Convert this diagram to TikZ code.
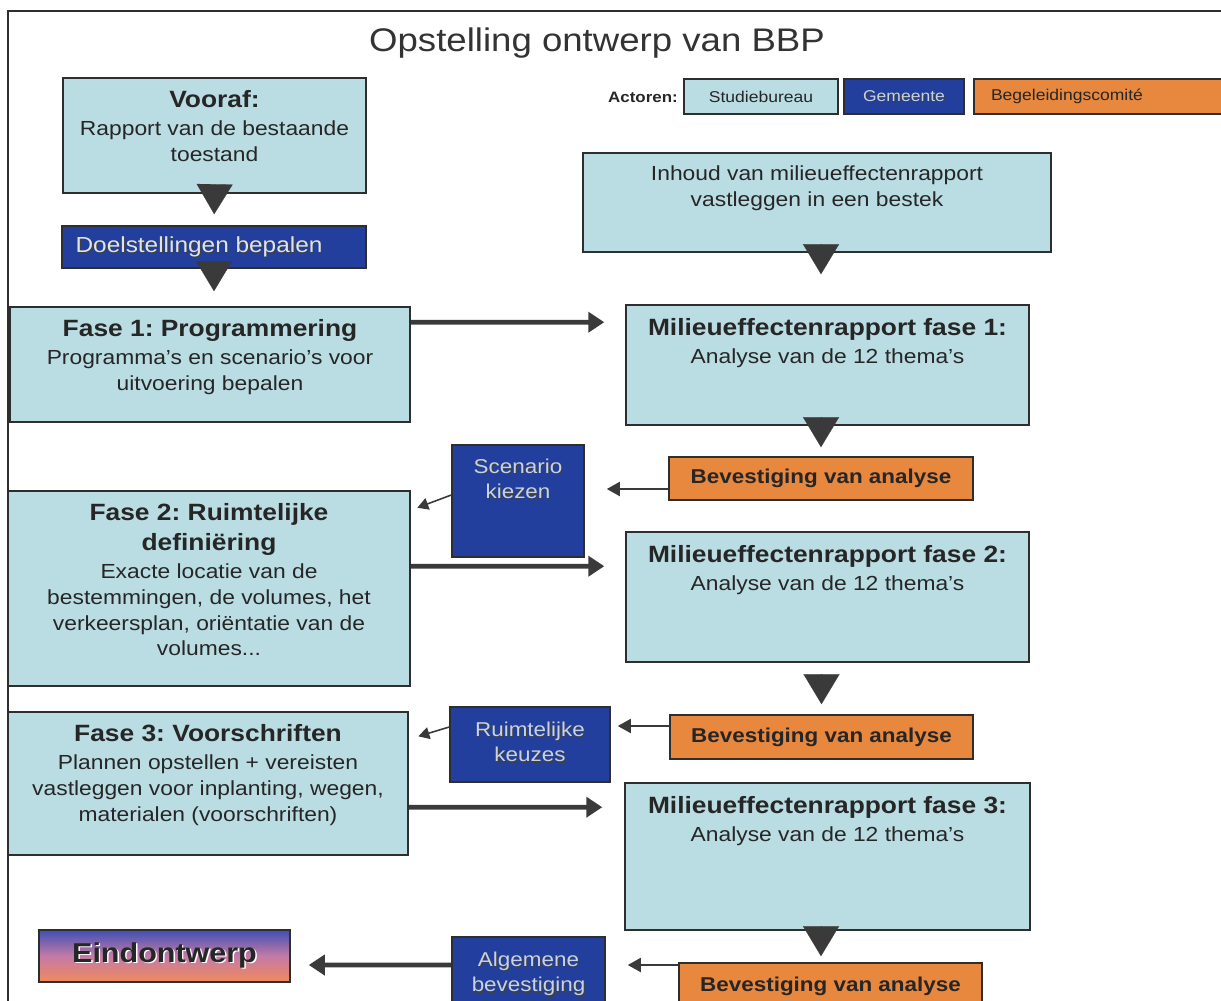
\documentclass[tikz,border=0pt]{standalone}
\usepackage{fontspec}
\setmainfont{Liberation Sans}[FakeStretch=1.12]
\usetikzlibrary{arrows.meta}
\frenchspacing

\definecolor{studieblue}{HTML}{BADDE3}
\definecolor{gemblue}{HTML}{223F9E}
\definecolor{comiteorange}{HTML}{E8873E}
\definecolor{boxline}{HTML}{2E2E2E}
\definecolor{arrowgray}{HTML}{3A3A3A}
\definecolor{textgray}{HTML}{262626}
\definecolor{titlegray}{HTML}{333333}
\definecolor{gemtextcol}{HTML}{C6D2E8}
\definecolor{eindtop}{HTML}{3F50B4}
\definecolor{eindmid}{HTML}{C47AA6}
\definecolor{eindbot}{HTML}{F08A5C}

\newcommand\bodysize{\fontsize{11.6}{14.7}\selectfont}
\newcommand\hd[1]{{\bfseries\fontsize{13.4}{16}\selectfont #1}}
\newcommand\shadowed[1]{\leavevmode\rlap{\kern0.7pt\raisebox{-0.7pt}{\color{black!75}#1}}#1}
\newcommand\lifted[1]{\leavevmode\rlap{\kern0.8pt\raisebox{-0.8pt}{\color{white}#1}}#1}

\begin{document}
\begin{tikzpicture}[
    x=0.02cm, y=-0.02cm,
    box/.style={draw=boxline, line width=0.9pt, inner sep=0pt},
    studiebox/.style={box, fill=studieblue},
    gemeentebox/.style={box, fill=gemblue},
    comitebox/.style={box, fill=comiteorange},
    boxtext/.style={font=\bodysize, text=textgray, align=center, inner sep=0pt, anchor=north},
    gemtext/.style={font=\fontsize{11.4}{14.7}\selectfont, text=gemtextcol, align=center, inner sep=0pt, anchor=north},
    bevtext/.style={font=\bfseries\fontsize{11.4}{14}\selectfont, text=textgray},
    blocktip/.style={draw=arrowgray, line width=0.1pt, -{Triangle[width=0.72cm,length=0.6cm]}},
    thickarrow/.style={draw=arrowgray, line width=2.8pt, -{Triangle[width=0.4cm,length=0.32cm]}},
    thinarrow/.style={draw=arrowgray, line width=1.1pt, -{Triangle[width=0.28cm,length=0.26cm]}},
    diagarrow/.style={draw=arrowgray, line width=0.9pt, -{Triangle[width=0.24cm,length=0.22cm]}}
]
\useasboundingbox (0,0) rectangle (1221,1001);
\clip (0,0) rectangle (1221,1001);

% Frame
\draw[boxline, line width=1pt] (8,1001) -- (8,11) -- (1221,11);

% Title
\node[font=\fontsize{18.6}{22}\selectfont, text=titlegray] (title) at (597,43) {Opstelling ontwerp van BBP};

% Legend
\node[font=\bfseries\fontsize{8.6}{10}\selectfont, text=textgray] (actoren) at (643,97) {Actoren:};
\node[studiebox, minimum width=3.08cm, minimum height=0.70cm, font=\fontsize{8.9}{10}\selectfont, text=textgray] (studie) at (761,96.5) {Studiebureau};
\node[gemeentebox, minimum width=2.4cm, minimum height=0.70cm, font=\fontsize{8.9}{10}\selectfont, text=gemtextcol] (gemeente) at (904,96.5) {\shadowed{Gemeente}};
\node[comitebox, minimum height=0.70cm, text width=4.64cm, inner xsep=0.34cm, align=left, font=\fontsize{8.9}{10}\selectfont, text=textgray] (comite) at (1107,96.5) {Begeleidingscomité};

% Left column: programme phases
\node[studiebox, minimum width=6.06cm, minimum height=2.30cm] (vooraf) at (214.5,135.5) {};
\node[boxtext] (vooraf-txt) at ([yshift=-0.26cm]vooraf.north) {\hd{Vooraf:}\\[1.2pt]Rapport van de bestaande\\toestand};

\node[gemeentebox, minimum width=6.08cm, minimum height=0.84cm] (doel) at (214,247) {};
\node[gemtext, anchor=west, font=\fontsize{12.4}{14}\selectfont, text=gemtextcol!60!white] (doel-txt) at ([xshift=0.28cm]doel.west) {\shadowed{Doelstellingen bepalen}};

\node[studiebox, minimum width=8.0cm, minimum height=2.30cm] (fase1) at (210,364.5) {};
\node[boxtext] (fase1-txt) at ([yshift=-0.26cm]fase1.north) {\hd{Fase 1: Programmering}\\[1.2pt]Programma’s en scenario’s voor\\uitvoering bepalen};

\node[studiebox, minimum width=8.04cm, minimum height=3.9cm] (fase2) at (209,588.5) {};
\node[boxtext] (fase2-txt) at ([yshift=-0.26cm]fase2.north) {\hd{Fase 2: Ruimtelijke}\\[2.3pt]\hd{definiëring}\\[1.2pt]Exacte locatie van de\\bestemmingen, de volumes, het\\verkeersplan, oriëntatie van de\\volumes...};

\node[studiebox, minimum width=8.0cm, minimum height=2.86cm] (fase3) at (208,783.5) {};
\node[boxtext] (fase3-txt) at ([yshift=-0.26cm]fase3.north) {\hd{Fase 3: Voorschriften}\\[1.2pt]Plannen opstellen + vereisten\\vastleggen voor inplanting, wegen,\\materialen (voorschriften)};

\node[box, shading=axis, top color=eindtop, bottom color=eindbot, middle color=eindmid, minimum width=5.02cm, minimum height=1.04cm, font=\bfseries\fontsize{15.5}{18}\selectfont, text=textgray] (eind) at (164.5,956) {\lifted{Eindontwerp}};

% Middle column: choices of the municipality
\node[gemeentebox, minimum width=2.64cm, minimum height=2.24cm] (scen) at (518,501) {};
\node[gemtext] (scen-txt) at ([yshift=-0.28cm]scen.north) {\shadowed{Scenario}\\\shadowed{kiezen}};

\node[gemeentebox, minimum width=3.2cm, minimum height=1.5cm] (ruimt) at (530,744.5) {};
\node[gemtext] (ruimt-txt) at ([yshift=-0.3cm]ruimt.north) {\shadowed{Ruimtelijke}\\\shadowed{keuzes}};

\node[gemeentebox, minimum width=3.06cm, minimum height=1.46cm] (alg) at (528.5,973.5) {};
\node[gemtext] (alg-txt) at ([yshift=-0.3cm]alg.north) {\shadowed{Algemene}\\\shadowed{bevestiging}};

% Right column: environmental impact report
\node[studiebox, minimum width=9.36cm, minimum height=1.98cm] (inhoud) at (817,202.5) {};
\node[boxtext] (inhoud-txt) at ([yshift=-0.26cm]inhoud.north) {Inhoud van milieueffectenrapport\\vastleggen in een bestek};

\node[studiebox, minimum width=8.06cm, minimum height=2.4cm] (mer1) at (827.5,365) {};
\node[boxtext] (mer1-txt) at ([yshift=-0.28cm]mer1.north) {\hd{Milieueffectenrapport fase 1:}\\[1.2pt]Analyse van de 12 thema’s};

\node[comitebox, minimum width=6.08cm, minimum height=0.86cm, bevtext] (bev1) at (821,478.5) {Bevestiging van analyse};

\node[studiebox, minimum width=8.06cm, minimum height=2.6cm] (mer2) at (827.5,597) {};
\node[boxtext] (mer2-txt) at ([yshift=-0.28cm]mer2.north) {\hd{Milieueffectenrapport fase 2:}\\[1.2pt]Analyse van de 12 thema’s};

\node[comitebox, minimum width=6.06cm, minimum height=0.88cm, bevtext] (bev2) at (821.5,737) {Bevestiging van analyse};

\node[studiebox, minimum width=8.1cm, minimum height=2.94cm] (mer3) at (827.5,856.5) {};
\node[boxtext] (mer3-txt) at ([yshift=-0.28cm]mer3.north) {\hd{Milieueffectenrapport fase 3:}\\[1.2pt]Analyse van de 12 thema’s};

\node[comitebox, minimum width=6.06cm, minimum height=0.94cm, bevtext] (bev3) at (830.5,986.5) {Bevestiging van analyse};

% Block arrows down
\draw[blocktip, shorten >=0.22cm] (vooraf.south) -- (doel.north);
\draw[blocktip, shorten >=0.30cm] (doel.south) -- (doel.south |- fase1.north);
\draw[blocktip, shorten >=0.60cm] (bev1.north |- inhoud.south) -- (bev1.north |- mer1.north);
\draw[blocktip, shorten >=0.18cm] (bev1.north |- mer1.south) -- (bev1.north);
\draw[blocktip, shorten <=0.26cm, shorten >=0.20cm] (bev2.north |- mer2.south) -- (bev2.north);
\draw[blocktip, shorten >=0.12cm] (bev1.north |- mer3.south) -- (bev1.north |- bev3.north);

% Phase to report
\draw[thickarrow, shorten >=0.42cm] ([yshift=-0.32cm]fase1.north east) -- ([yshift=-0.36cm]mer1.north west);
\draw[thickarrow, shorten >=0.42cm] ([yshift=-1.52cm]fase2.north east) -- ([yshift=-0.70cm]mer2.north west);
\draw[thickarrow, shorten >=0.44cm] ([yshift=-1.92cm]fase3.north east) -- ([yshift=-0.50cm]mer3.north west);

% Confirmation back to the municipality
\draw[thinarrow, shorten >=0.44cm] ([yshift=-0.21cm]bev1.west) -- ([yshift=0.24cm]scen.east);
\draw[thinarrow, shorten >=0.14cm] ([yshift=0.22cm]bev2.west) -- ([yshift=0.37cm]ruimt.east);
\draw[thinarrow, shorten >=0.44cm] ([yshift=0.43cm]bev3.west) -- ([yshift=0.17cm]alg.east);

% Choice into next phase
\draw[diagarrow, shorten >=0.14cm] ([yshift=0.12cm]scen.west) -- ([yshift=-0.40cm]fase2.north east);
\draw[diagarrow, shorten >=0.20cm] ([yshift=0.35cm]ruimt.west) -- ([yshift=-0.56cm]fase3.north east);
\draw[thickarrow, shorten >=0.36cm] ([yshift=0.17cm]alg.west) -- ([yshift=-0.18cm]eind.east);

\end{tikzpicture}
\end{document}
